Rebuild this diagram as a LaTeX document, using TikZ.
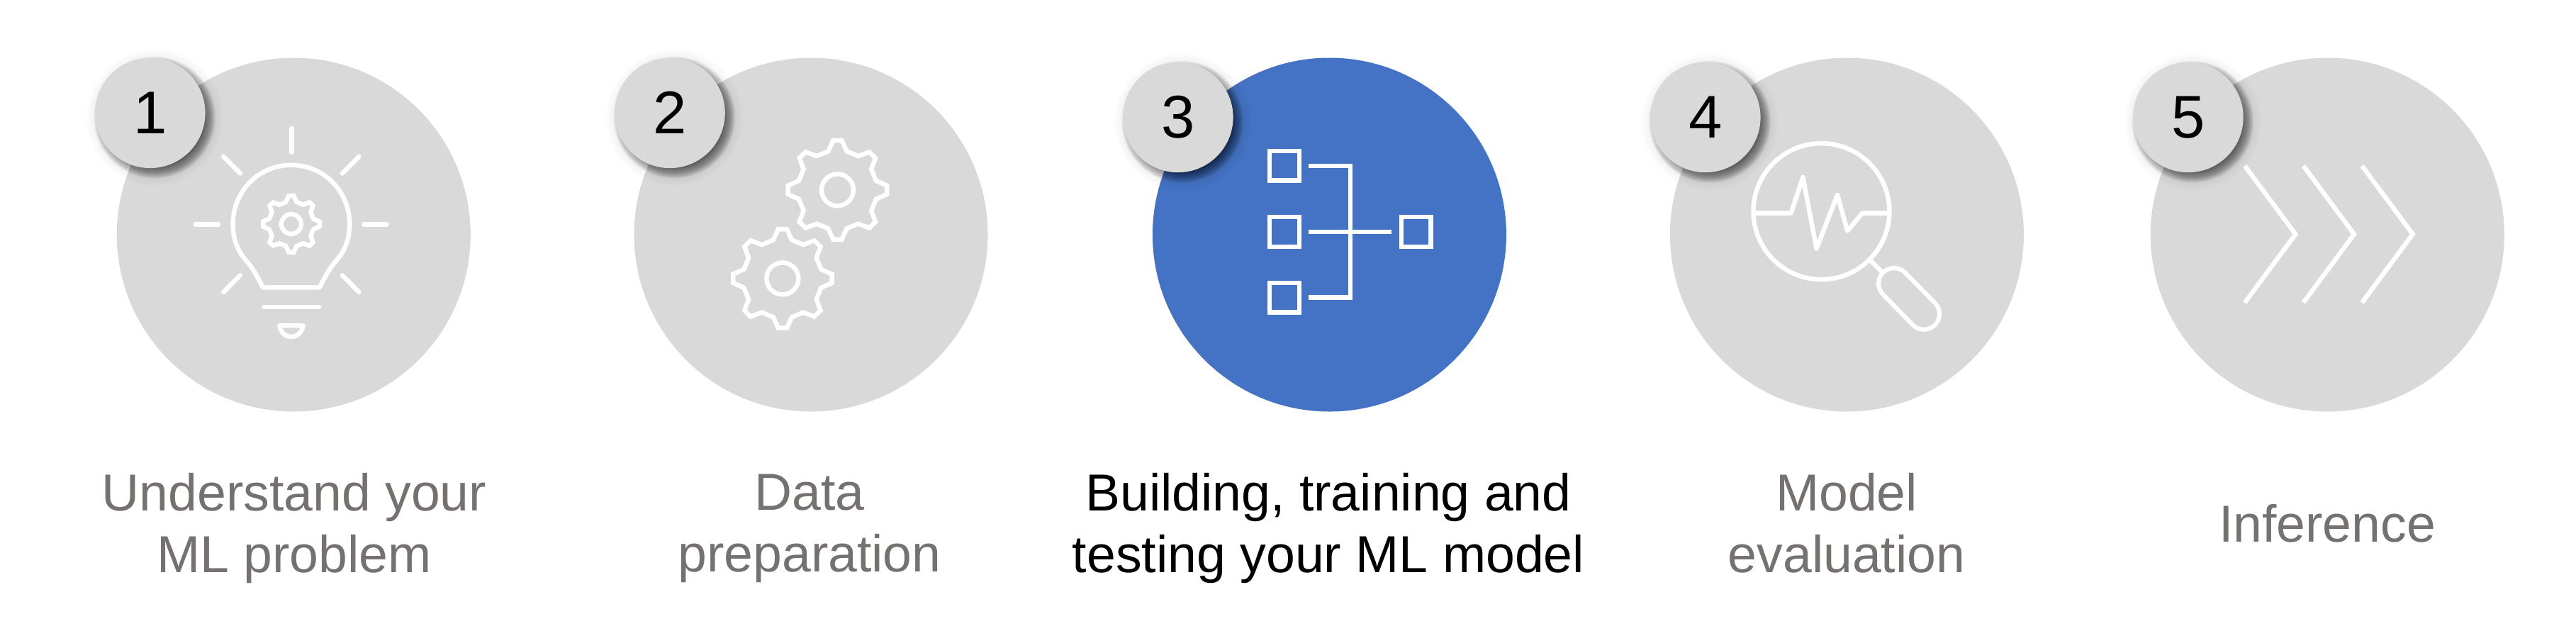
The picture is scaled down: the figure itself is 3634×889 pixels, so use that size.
\documentclass[tikz,border=0pt]{standalone}
\usepackage{fontspec}
\setmainfont{Liberation Sans}
\definecolor{cgray}{HTML}{D9D9D9}
\definecolor{cblue}{HTML}{4472C4}
\definecolor{tgray}{HTML}{767171}
\tikzset{
  bigdisc/.style={circle,minimum size=499pt,inner sep=0pt,fill=cgray},
  badge/.style={circle,minimum size=155.6pt,inner sep=0pt,fill=cgray,text=black,font=\fontsize{85}{85}\selectfont},
  lab/.style={align=center,inner sep=0pt,text=tgray,font=\fontsize{73.4}{87}\selectfont},
  ico/.style={draw=white,line width=6.4pt,line join=round,line cap=round},
  icoflat/.style={draw=white,line width=6.4pt,line join=miter,line cap=butt}
}
\newcommand{\softshadow}[2]{%
  \foreach \dr in {-7,-6,...,8}{%
    \fill[black,opacity=.045] (#1+6.5,#2+6.5) circle[radius=77.8+\dr];}%
  \foreach \dr in {9,11,...,19}{%
    \fill[black,opacity=.006] (#1+6.5,#2+6.5) circle[radius=77.8+\dr];}}
\newcommand{\gearicon}[4]{% cx, cy, tip radius, ring radius
  \pgfmathsetmacro{\rr}{#3*0.8}
  \draw[icoflat,line join=miter] ([shift={(#1,#2)}]-95:#3)
    \foreach \a in {0,45,...,315}{
      -- ([shift={(#1,#2)}]\a-95:#3)
      -- ([shift={(#1,#2)}]\a-85:#3)
      -- ([shift={(#1,#2)}]\a-76.5:\rr)
      -- ([shift={(#1,#2)}]\a-58.5:\rr)
    } -- cycle;
  \draw[icoflat] (#1,#2) circle[radius=#4];
}
\begin{document}
\begin{tikzpicture}[x=1pt,y=-1pt]
\useasboundingbox (0,0) rectangle (3634,889);
% discs
\node[bigdisc] (d1) at (414.3,331) {};
\node[bigdisc] (d2) at (1144,331) {};
\node[bigdisc,fill=cblue] (d3) at (1875.4,331) {};
\node[bigdisc] (d4) at (2605.4,331) {};
\node[bigdisc] (d5) at (3283.3,331) {};
% icon 1: bulb
\begin{scope}[shift={(120,50)},x=0.3827pt,y=-0.3571pt]
  \draw[ico] (762,367)--(762,462);
  \draw[ico] (510,478)--(572,545);
  \draw[ico] (1010,478)--(948,545);
  \draw[ico] (407,746)--(492,746);
  \draw[ico] (1027,746)--(1112,746);
  \draw[ico] (572,947)--(510,1014);
  \draw[ico] (948,947)--(1010,1014);
  \draw[ico] (655,995) .. controls (635,950) and (615,915) .. (597,893)
     .. controls (565,855) and (545,810) .. (545,745)
     .. controls (545,615) and (640,512) .. (760,512)
     .. controls (880,512) and (975,615) .. (975,745)
     .. controls (975,810) and (955,855) .. (923,893)
     .. controls (905,915) and (885,950) .. (865,995) -- cycle;
  \draw[ico] (660,1073)--(862,1073);
  \draw[ico] (717,1146)--(804,1146) .. controls (800,1172) and (782,1190) .. (760,1190)
     .. controls (738,1190) and (720,1172) .. (717,1146) -- cycle;
\end{scope}
\gearicon{410.9}{316}{40}{14}
% icon 2: gears
\gearicon{1181.4}{267.9}{70}{22.5}
\gearicon{1103.9}{392.9}{70}{22.5}
% icon 3: tree
\begin{scope}[shift={(1570,50)},x=0.3827pt,y=-0.3571pt]
  \draw[icoflat] (578,457) rectangle (687,573);
  \draw[icoflat] (578,717) rectangle (687,834);
  \draw[icoflat] (578,977) rectangle (687,1093);
  \draw[icoflat] (1063,717) rectangle (1172,834);
  \draw[icoflat] (722,515)--(875,515)--(875,1035)--(722,1035);
  \draw[icoflat] (722,775)--(1028,775);
\end{scope}
% icon 4: magnifier
\begin{scope}[shift={(2300,50)},x=0.3827pt,y=-0.3571pt]
  \draw[ico] (888,892)--(925,932);
  \draw[white,line width=50pt,line cap=round] (972,980)--(1082,1100);
  \draw[cgray,line width=37.5pt,line cap=round] (972,980)--(1082,1100);
  \draw[ico] (704,695) ellipse[x radius=250.8,y radius=268.8];
  \draw[ico] (455,702)--(592,702)--(636,560)--(686,842)--(763,630)--(800,772)--(855,702)--(955,702);
\end{scope}
% icon 5: chevrons
\begin{scope}[shift={(2980,50)},x=0.3827pt,y=-0.3571pt]
  \draw[icoflat] (488,515)--(675,785)--(488,1055);
  \draw[icoflat] (704,515)--(891,785)--(704,1055);
  \draw[icoflat] (920,515)--(1107,785)--(920,1055);
\end{scope}
% badges
\softshadow{211.8}{159.3}
\node[badge] (b1) at (211.8,159.3) {1};
\softshadow{945}{159.3}
\node[badge] (b2) at (945,159.3) {2};
\softshadow{1661.8}{165.4}
\node[badge] (b3) at (1661.8,165.4) {3};
\softshadow{2405.8}{165.4}
\node[badge] (b4) at (2405.8,165.4) {4};
\softshadow{3086.9}{165.4}
\node[badge] (b5) at (3086.9,165.4) {5};
% labels
\node[lab] (t1) at (414.9,745.5) {Understand your\\ML problem};
\node[lab] (t2) at (1142,745.5) {Data\\preparation};
\node[lab,text=black] (t3) at (1874,745.5) {Building, training and\\testing your ML model};
\node[lab] (t4) at (2605,738) {Model\\evaluation};
\node[lab] (t5) at (3283,738) {Inference};
\end{tikzpicture}
\end{document}
